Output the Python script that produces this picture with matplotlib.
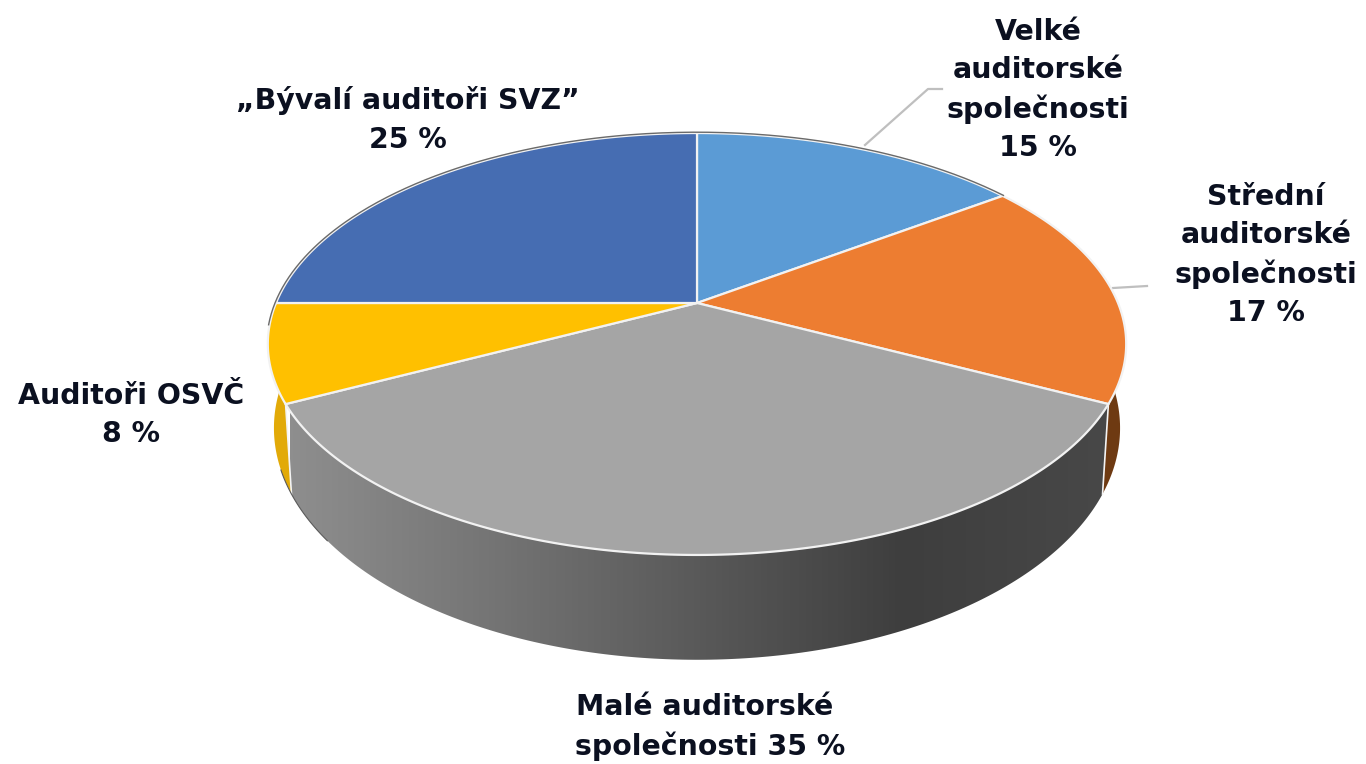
import numpy as np
import matplotlib
matplotlib.use("Agg")
import matplotlib.pyplot as plt
from matplotlib.colors import LinearSegmentedColormap
from matplotlib.patches import Polygon

categories = ["Velké\nauditorské\nspolečnosti\n15 %",
              "Střední\nauditorské\nspolečnosti\n17 %",
              "Malé auditorské\n společnosti 35 %",
              "Auditoři OSVČ\n8 %",
              "„Bývalí auditoři SVZ”\n25 %"]
shares = [15, 17.5, 35, 7.5, 25]
colors = ["#5B9BD5", "#ED7D31", "#A5A5A5", "#FFC000", "#466DB2"]
wall_colors = ["#2E4E6B", "#6E3A12", None, "#E2AA08", "#24395F"]
label_xy = [(1038, 90), (1266, 255), (705, 727), (131, 415), (408, 120)]

W, H = 1366, 764
fig = plt.figure(figsize=(W / 100, H / 100), dpi=100)
ax = fig.add_axes([0, 0, 1, 1])
ax.set_xlim(0, W)
ax.set_ylim(H, 0)
ax.axis("off")

CX = 697
K = 0.1943


def rim(theta, a, b, yc):
    """Perspective projection of a disc rim; theta clockwise from the top."""
    d = 1 + K * np.cos(theta)
    return np.column_stack([CX + a * np.sin(theta) / d, yc - b * np.cos(theta) / d])


def top(theta):
    return rim(theta, 421, 203, 303)


def bottom(theta):
    return rim(theta, 415, 223, 383)


edges = np.deg2rad(np.concatenate([[0], np.cumsum(shares)]) * 3.6)
arcs = [np.linspace(edges[i], edges[i + 1], 200) for i in range(len(shares))]
centre = np.array([[CX, 303]])

# Side wall: coloured slivers
for arc, wc in zip(arcs, wall_colors):
    if wc is None:
        continue
    if np.cos(arc).min() > -0.1:
        continue
    ax.add_patch(Polygon(np.vstack([top(arc), bottom(arc[::-1])]),
                         closed=True, fc=wc, ec="none", zorder=1))

# Side wall: grey slice with horizontal gradient
cmap = LinearSegmentedColormap.from_list(
    "wall", [(0, "#8E8E8E"), (0.25, "#747474"), (0.5, "#595959"),
             (0.75, "#3E3E3E"), (1, "#484848")])
grey = arcs[2]
wall = Polygon(np.vstack([top(grey), bottom(grey[::-1])]), closed=True,
               fc="none", ec="none", transform=ax.transData)
ax.add_patch(wall)
im = ax.imshow(np.linspace(0, 1, 256)[None, :], cmap=cmap, aspect="auto",
               extent=(290, 1110, 670, 390), zorder=2)
im.set_clip_path(wall)
ax.set_xlim(0, W)
ax.set_ylim(H, 0)

# White gaps at the wall edges, dark silhouette on the lit side
for t in (grey[0], grey[-1]):
    ax.plot(*np.vstack([top(np.array([t])), bottom(np.array([t]))]).T,
            color="#F4F4F4", lw=1.2, zorder=2.5)
ax.plot(*bottom(np.linspace(grey[-1] - 0.2, grey[-1] + 0.1, 60)).T,
        color="#5A5A5A", lw=0.8, zorder=2.5)

# Top faces
for arc, c in zip(arcs, colors):
    ax.add_patch(Polygon(np.vstack([centre, top(arc)]), closed=True, fc=c,
                         ec="#F2F2F2", lw=1.6, joinstyle="round", zorder=3))

# Dark outer rim above the white edge on the far side
far = np.deg2rad(np.linspace(-96, 54, 300))
ax.plot(*rim(far, 422, 204, 303).T, color="#6A6A6A", lw=1.0, zorder=4)

# Leader lines
ax.plot([865, 928, 942], [145, 89, 89], color="#BFBFBF", lw=1.6, zorder=2)
ax.plot([1113, 1147], [288, 286], color="#BFBFBF", lw=1.6, zorder=2)

# Labels
for text, (x, y) in zip(categories, label_xy):
    ax.text(x, y, text, ha="center", va="center", family="DejaVu Sans",
            weight="bold", fontsize=20.4, color="#0B1020", linespacing=1.46,
            zorder=5)

fig.savefig("out.png", dpi=100, facecolor="white")
